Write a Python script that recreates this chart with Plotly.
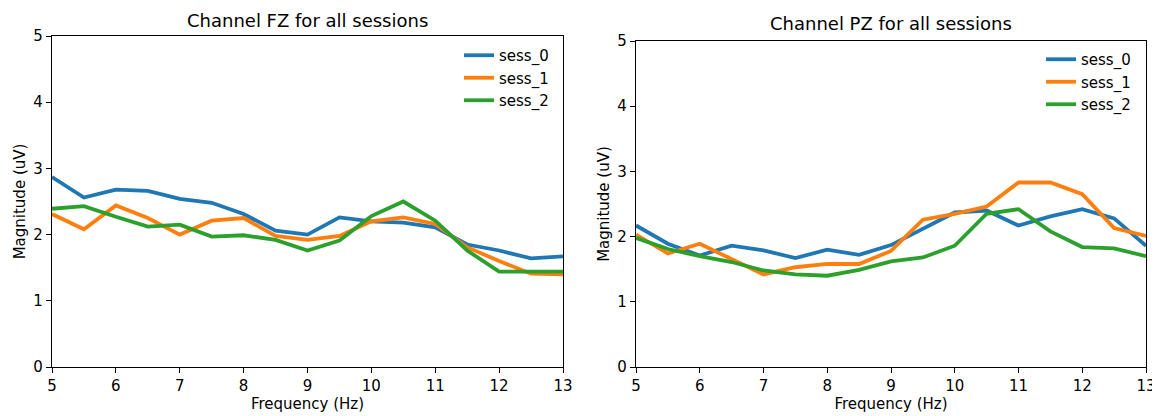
import plotly.graph_objects as go

freqs = [5, 5.5, 6, 6.5, 7, 7.5, 8, 8.5, 9, 9.5, 10, 10.5, 11, 11.5, 12, 12.5, 13]
sessions = ["sess_0", "sess_1", "sess_2"]
colors = ["#1f77b4", "#ff7f0e", "#2ca02c"]

fz_sess_0 = [2.87, 2.56, 2.68, 2.66, 2.54, 2.48, 2.31, 2.06, 2.00, 2.26, 2.20, 2.18, 2.11, 1.85, 1.76, 1.64, 1.67]
fz_sess_1 = [2.31, 2.08, 2.44, 2.25, 2.00, 2.21, 2.25, 1.98, 1.92, 1.98, 2.20, 2.26, 2.16, 1.81, 1.60, 1.41, 1.40]
fz_sess_2 = [2.39, 2.43, 2.27, 2.12, 2.15, 1.97, 1.99, 1.92, 1.76, 1.91, 2.28, 2.50, 2.21, 1.76, 1.44, 1.44, 1.44]

pz_sess_0 = [2.17, 1.89, 1.71, 1.86, 1.79, 1.67, 1.80, 1.72, 1.87, 2.12, 2.37, 2.40, 2.17, 2.31, 2.42, 2.28, 1.86]
pz_sess_1 = [2.03, 1.74, 1.89, 1.66, 1.42, 1.53, 1.58, 1.58, 1.78, 2.26, 2.35, 2.46, 2.83, 2.83, 2.65, 2.13, 2.01]
pz_sess_2 = [1.98, 1.81, 1.70, 1.61, 1.48, 1.42, 1.40, 1.49, 1.62, 1.68, 1.86, 2.35, 2.42, 2.08, 1.84, 1.82, 1.70]

x_ticks = [5, 6, 7, 8, 9, 10, 11, 12, 13]
y_ticks = [0, 1, 2, 3, 4, 5]

titles = ["Channel FZ for all sessions", "Channel PZ for all sessions"]
x_label = "Frequency (Hz)"
y_label = "Magnitude (uV)"

FONT = "DejaVu Sans"
OFF = 8  # page body margin
W, H = 1160 - OFF, 416 - OFF
TICK_SIZE = 15
LABEL_SIZE = 15
TITLE_SIZE = 18


def fx(px):
    return (px - OFF) / W


def fy(py):
    return 1 - (py - OFF) / H


fig = go.Figure()

for name, col, ys in zip(sessions, colors, [fz_sess_0, fz_sess_1, fz_sess_2]):
    fig.add_trace(go.Scatter(x=freqs, y=ys, mode="lines", name=name,
                             line=dict(color=col, width=3.8),
                             xaxis="x", yaxis="y", legend="legend"))
for name, col, ys in zip(sessions, colors, [pz_sess_0, pz_sess_1, pz_sess_2]):
    fig.add_trace(go.Scatter(x=freqs, y=ys, mode="lines", name=name,
                             line=dict(color=col, width=3.8),
                             xaxis="x2", yaxis="y2", legend="legend2"))


def xax(domain, anchor):
    return dict(domain=domain, anchor=anchor, range=[5, 13], tickvals=x_ticks,
                automargin=False,
                showgrid=False, zeroline=False, showline=True, linecolor="black",
                linewidth=1.2, mirror=True, ticks="outside", ticklen=5, tickcolor="black",
                tickwidth=1.2,
                tickfont=dict(family=FONT, size=TICK_SIZE, color="black"),
                title=dict(text=x_label, font=dict(family=FONT, size=LABEL_SIZE, color="black"), standoff=2))


def yax(domain, anchor):
    return dict(domain=domain, anchor=anchor, range=[0, 5], tickvals=y_ticks,
                automargin=False,
                showgrid=False, zeroline=False, showline=True, linecolor="black",
                linewidth=1.2, mirror=True, ticks="outside", ticklen=5, tickcolor="black",
                tickwidth=1.2,
                tickfont=dict(family=FONT, size=TICK_SIZE, color="black"),
                title=dict(text=y_label, font=dict(family=FONT, size=LABEL_SIZE, color="black"), standoff=4))


left_x = [fx(52), fx(563)]
right_x = [fx(636), fx(1146)]
left_y = [fy(367), fy(36)]
right_y = [fy(367), fy(41)]

legend_style = dict(bgcolor="rgba(0,0,0,0)", borderwidth=0, xanchor="right", yanchor="top",
                    font=dict(family=FONT, size=TICK_SIZE, color="black"), itemwidth=30,
                    tracegroupgap=0)

fig.update_layout(
    width=W, height=H, margin=dict(l=0, r=0, t=0, b=0),
    paper_bgcolor="white", plot_bgcolor="white",
    font=dict(family=FONT, color="black"),
    xaxis=xax(left_x, "y"), yaxis=yax(left_y, "x"),
    xaxis2=xax(right_x, "y2"), yaxis2=yax(right_y, "x2"),
    legend=dict(x=fx(554), y=fy(39), **legend_style),
    legend2=dict(x=fx(1136), y=fy(43), **legend_style),
    annotations=[
        dict(text=titles[0], x=(left_x[0] + left_x[1]) / 2, y=fy(20), xref="paper", yref="paper",
             showarrow=False, xanchor="center", yanchor="middle",
             font=dict(family=FONT, size=TITLE_SIZE, color="black")),
        dict(text=titles[1], x=(right_x[0] + right_x[1]) / 2, y=fy(24), xref="paper", yref="paper",
             showarrow=False, xanchor="center", yanchor="middle",
             font=dict(family=FONT, size=TITLE_SIZE, color="black")),
    ],
)

fig.write_html("out.html")
